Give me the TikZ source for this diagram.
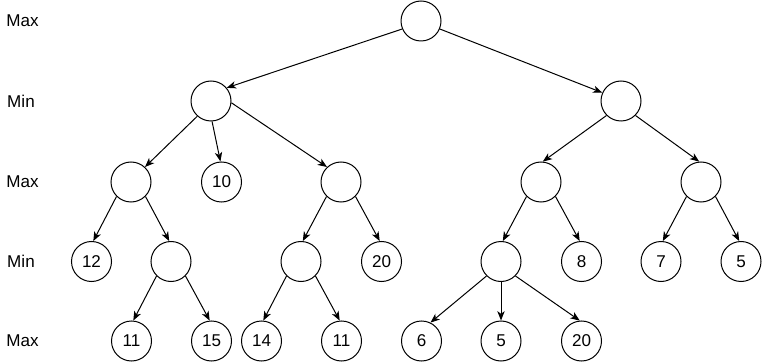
\documentclass[tikz,border=0pt]{standalone}
\usepackage{fontspec}
\setmainfont{Liberation Sans}
\usetikzlibrary{arrows.meta}
\begin{document}
\begin{tikzpicture}[x=0.75pt,y=-0.75pt,
  tnode/.style={circle,draw=black,line width=0.75pt,minimum size=30pt,inner sep=0pt,font=\fontsize{12.8pt}{14pt}\selectfont},
  lvl/.style={font=\fontsize{12.8pt}{14pt}\selectfont,inner sep=0pt},
  edge/.style={line width=0.75pt,-{Stealth[length=7pt,width=5.5pt,inset=2pt]}}]
\useasboundingbox (0,0) rectangle (763,363);
% level labels
\node[lvl] (lab0) at (22.5,21) {Max};
\node[lvl] (lab1) at (21,101) {Min};
\node[lvl] (lab2) at (22.5,182) {Max};
\node[lvl] (lab3) at (21,261.5) {Min};
\node[lvl] (lab4) at (22.5,341) {Max};
% nodes
\node[tnode] (root) at (421,21) {};
\node[tnode] (L) at (211,101) {};
\node[tnode] (R) at (621,101) {};
\node[tnode] (A) at (131,182) {};
\node[tnode] (B) at (221.5,182) {10};
\node[tnode] (C) at (341,182) {};
\node[tnode] (D) at (541,182) {};
\node[tnode] (E) at (701,182) {};
\node[tnode] (F) at (91.5,261.5) {12};
\node[tnode] (G) at (171,261.5) {};
\node[tnode] (H) at (301,261.5) {};
\node[tnode] (I) at (381.5,261.5) {20};
\node[tnode] (J) at (501,261.5) {};
\node[tnode] (K) at (581.5,261.5) {8};
\node[tnode] (M) at (661,261.5) {7};
\node[tnode] (N) at (741,261.5) {5};
\node[tnode] (P) at (131.5,341) {11};
\node[tnode] (Q) at (211.5,341) {15};
\node[tnode] (S) at (261.5,341) {14};
\node[tnode] (T) at (341.5,341) {11};
\node[tnode] (U) at (421.5,341) {6};
\node[tnode] (V) at (501,341) {5};
\node[tnode] (W) at (581.5,341) {20};
% edges
\draw[edge] (root.203) -- (L.40);
\draw[edge] (root.-23) -- (R.156);
\draw[edge] (L.-132) -- (A.47);
\draw[edge] (L.-87) -- (B.93);
\draw[edge] (L.-5) -- (C.133);
\draw[edge] (A.-135) -- (F.85);
\draw[edge] (A.-45) -- (G.95);
\draw[edge] (G.-135) -- (P.85);
\draw[edge] (G.-45) -- (Q.95);
\draw[edge] (C.-135) -- (H.85);
\draw[edge] (C.-45) -- (I.95);
\draw[edge] (H.-135) -- (S.85);
\draw[edge] (H.-45) -- (T.95);
\draw[edge] (R.-135) -- (D.85);
\draw[edge] (R.-45) -- (E.95);
\draw[edge] (D.-135) -- (J.85);
\draw[edge] (D.-45) -- (K.95);
\draw[edge] (E.-135) -- (M.85);
\draw[edge] (E.-45) -- (N.95);
\draw[edge] (J.-135) -- (U.64);
\draw[edge] (J.south) -- (V.north);
\draw[edge] (J.-45) -- (W.95);
\end{tikzpicture}
\end{document}
